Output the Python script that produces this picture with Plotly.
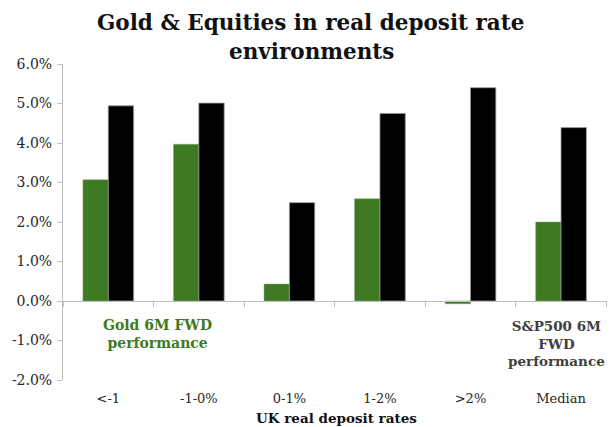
import plotly.graph_objects as go

categories = ["<-1", "-1-0%", "0-1%", "1-2%", ">2%", "Median"]
gold = [3.07, 3.97, 0.43, 2.59, -0.07, 2.0]
spx = [4.94, 5.01, 2.49, 4.75, 5.40, 4.39]
y_ticks = [-2, -1, 0, 1, 2, 3, 4, 5, 6]

FONT = "DejaVu Serif"
GREEN = "#3e7a22"

fig = go.Figure()
fig.add_trace(go.Bar(x=categories, y=gold, name="Gold 6M FWD performance",
                     marker=dict(color=GREEN, line=dict(color="#8aa87a", width=0.5))))
fig.add_trace(go.Bar(x=categories, y=spx, name="S&P500 6M FWD performance",
                     marker=dict(color="#000000", line=dict(color="#9a9a9a", width=0.8))))

fig.update_layout(
    width=609, height=427,
    barmode="group", bargap=0.44, bargroupgap=0,
    plot_bgcolor="white", paper_bgcolor="white",
    showlegend=False,
    margin=dict(l=63, r=2, t=64, b=47, autoexpand=False),
    font=dict(family=FONT, color="#262626"),
    xaxis=dict(
        anchor="free", position=0.25, automargin=False,
        showline=True, linecolor="#bfbfbf", linewidth=1,
        ticks="outside", tickson="boundaries", ticklen=5, tickcolor="#bfbfbf",
        ticklabelstandoff=85,
        tickfont=dict(size=13, color="#262626"),
        showgrid=False, zeroline=False,
    ),
    yaxis=dict(
        range=[-2, 6], tickvals=y_ticks, automargin=False,
        ticktext=[f"{v:.1f}%" for v in y_ticks],
        showline=True, linecolor="#bfbfbf", linewidth=1,
        ticks="outside", ticklen=5, tickcolor="#bfbfbf",
        ticklabelstandoff=2,
        tickfont=dict(size=14, color="#262626"),
        showgrid=False, zeroline=False,
    ),
)

# Title (two lines)
fig.add_annotation(text="Gold & Equities in real deposit rate", xref="paper", yref="paper",
                   x=(310 - 63) / 544, y=1 + (64 - 23) / 316, xanchor="center", yanchor="middle",
                   showarrow=False,
                   font=dict(family=FONT, size=21.5, color="#111111", weight="bold"))
fig.add_annotation(text="environments", xref="paper", yref="paper",
                   x=(311 - 63) / 544, y=1 + (64 - 51) / 316, xanchor="center", yanchor="middle",
                   showarrow=False,
                   font=dict(family=FONT, size=21.5, color="#111111", weight="bold"))

fig.add_annotation(text="UK real deposit rates", xref="paper", yref="paper",
                   x=0.502, y=-0.12, xanchor="center", yanchor="middle", showarrow=False,
                   font=dict(family=FONT, size=13.5, color="#111111", weight="bold"))
fig.add_annotation(text="Gold 6M FWD<br>performance", x=0.54, y=-0.84, xref="x", yref="y",
                   showarrow=False, align="center",
                   font=dict(family=FONT, size=14, color=GREEN, weight="bold"))
fig.add_annotation(text="S&P500 6M<br>FWD<br>performance", x=4.95, y=-1.07, xref="x", yref="y",
                   showarrow=False, align="center",
                   font=dict(family=FONT, size=13.5, color="#404040", weight="bold"))

fig.write_html("out.html", config={"displayModeBar": False},
               post_script="document.body.style.margin='0';document.body.style.padding='0';")
